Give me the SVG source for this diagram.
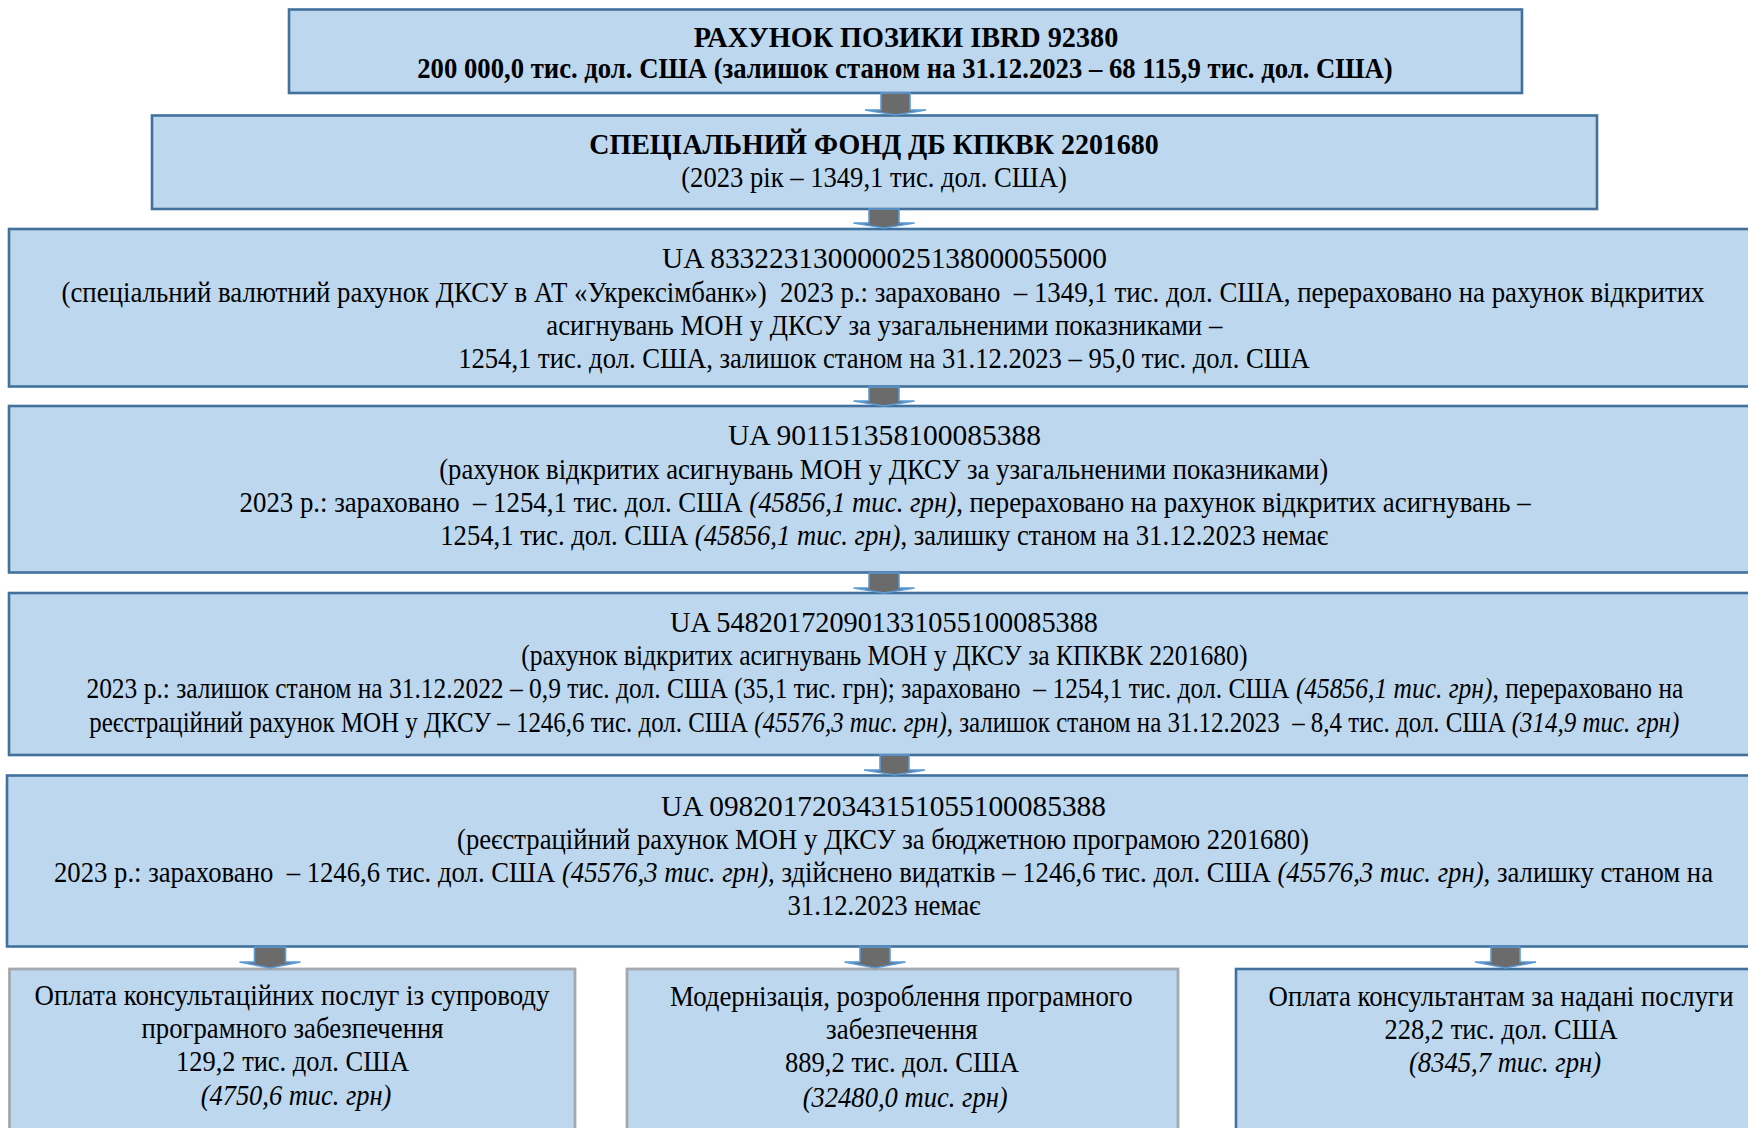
<svg xmlns="http://www.w3.org/2000/svg" width="1748" height="1128" viewBox="0 0 1748 1128">
<style>
.box{fill:#bdd7ee;stroke:#41719c;stroke-width:2.6}
.gbox{fill:#bdd7ee;stroke:#a3a9ae;stroke-width:2.8}
.t{font-family:"Liberation Serif","Times New Roman",serif;font-size:29.3px;fill:#000;text-anchor:middle;white-space:pre}
.b{font-weight:bold}
.i{font-style:italic}
.arr{fill:#6b6b6b;stroke:#5b9bd5;stroke-width:1.6;stroke-linejoin:miter}
</style>
<rect width="1748" height="1128" fill="#ffffff"/>
<g id="n1">
<rect class="box" x="289" y="9.5" width="1233" height="83.5"/>
<text class="t b" x="906" y="46.5" textLength="424.5" lengthAdjust="spacingAndGlyphs">РАХУНОК ПОЗИКИ IBRD 92380</text>
<text class="t b" x="905" y="78" textLength="975.5" lengthAdjust="spacingAndGlyphs">200 000,0 тис. дол. США (залишок станом на 31.12.2023 – 68 115,9 тис. дол. США)</text>
</g>
<g id="n2">
<rect class="box" x="152" y="115.5" width="1445" height="93.5"/>
<text class="t b" x="874" y="154" textLength="569.5" lengthAdjust="spacingAndGlyphs">СПЕЦІАЛЬНИЙ ФОНД ДБ КПКВК 2201680</text>
<text class="t" x="874" y="187" textLength="385.5" lengthAdjust="spacingAndGlyphs">(2023 рік – 1349,1 тис. дол. США)</text>
</g>
<g id="n3">
<rect class="box" x="9" y="229" width="1750" height="157.5"/>
<text class="t" x="884.5" y="268" textLength="445" lengthAdjust="spacingAndGlyphs">UA 833223130000025138000055000</text>
<text class="t" x="883" y="301.5" textLength="1643" lengthAdjust="spacingAndGlyphs">(спеціальний валютний рахунок ДКСУ в АТ «Укрексімбанк»)  2023 р.: зараховано  – 1349,1 тис. дол. США, перераховано на рахунок відкритих</text>
<text class="t" x="884.3" y="334.5" textLength="676" lengthAdjust="spacingAndGlyphs">асигнувань МОН у ДКСУ за узагальненими показниками –</text>
<text class="t" x="884" y="367.5" textLength="851.7" lengthAdjust="spacingAndGlyphs">1254,1 тис. дол. США, залишок станом на 31.12.2023 – 95,0 тис. дол. США</text>
</g>
<g id="n4">
<rect class="box" x="9" y="406" width="1750" height="166.5"/>
<text class="t" x="884.5" y="445" textLength="313" lengthAdjust="spacingAndGlyphs">UA 901151358100085388</text>
<text class="t" x="883.7" y="478.5" textLength="889" lengthAdjust="spacingAndGlyphs">(рахунок відкритих асигнувань МОН у ДКСУ за узагальненими показниками)</text>
<text class="t" x="885.1" y="512" textLength="1291" lengthAdjust="spacingAndGlyphs">2023 р.: зараховано  – 1254,1 тис. дол. США <tspan class="i">(45856,1 тис. грн)</tspan>, перераховано на рахунок відкритих асигнувань –</text>
<text class="t" x="884.3" y="545" textLength="888" lengthAdjust="spacingAndGlyphs">1254,1 тис. дол. США <tspan class="i">(45856,1 тис. грн)</tspan>, залишку станом на 31.12.2023 немає</text>
</g>
<g id="n5">
<rect class="box" x="9" y="593" width="1750" height="162"/>
<text class="t" x="884" y="631.5" textLength="428" lengthAdjust="spacingAndGlyphs">UA 548201720901331055100085388</text>
<text class="t" x="884.3" y="665" textLength="726.3" lengthAdjust="spacingAndGlyphs">(рахунок відкритих асигнувань МОН у ДКСУ за КПКВК 2201680)</text>
<text class="t" x="884.9" y="698" textLength="1597" lengthAdjust="spacingAndGlyphs">2023 р.: залишок станом на 31.12.2022 – 0,9 тис. дол. США (35,1 тис. грн); зараховано  – 1254,1 тис. дол. США <tspan class="i">(45856,1 тис. грн)</tspan>, перераховано на</text>
<text class="t" x="884.3" y="731.5" textLength="1590" lengthAdjust="spacingAndGlyphs">реєстраційний рахунок МОН у ДКСУ – 1246,6 тис. дол. США <tspan class="i">(45576,3 тис. грн)</tspan>, залишок станом на 31.12.2023  – 8,4 тис. дол. США <tspan class="i">(314,9 тис. грн)</tspan></text>
</g>
<g id="n6">
<rect class="box" x="7" y="775.5" width="1754" height="171"/>
<text class="t" x="883.5" y="815.5" textLength="445" lengthAdjust="spacingAndGlyphs">UA 098201720343151055100085388</text>
<text class="t" x="883" y="848.5" textLength="852" lengthAdjust="spacingAndGlyphs">(реєстраційний рахунок МОН у ДКСУ за бюджетною програмою 2201680)</text>
<text class="t" x="883.5" y="881.5" textLength="1659" lengthAdjust="spacingAndGlyphs">2023 р.: зараховано  – 1246,6 тис. дол. США <tspan class="i">(45576,3 тис. грн),</tspan> здійснено видатків – 1246,6 тис. дол. США <tspan class="i">(45576,3 тис. грн),</tspan> залишку станом на</text>
<text class="t" x="884" y="915" textLength="193" lengthAdjust="spacingAndGlyphs">31.12.2023 немає</text>
</g>
<g id="n7">
<rect class="gbox" x="9.5" y="969" width="565.5" height="175"/>
<text class="t" x="292" y="1004.5" textLength="515" lengthAdjust="spacingAndGlyphs">Оплата консультаційних послуг із супроводу</text>
<text class="t" x="292.5" y="1037.5" textLength="302" lengthAdjust="spacingAndGlyphs">програмного забезпечення</text>
<text class="t" x="292.5" y="1070.5" textLength="233" lengthAdjust="spacingAndGlyphs">129,2 тис. дол. США</text>
<text class="t i" x="296" y="1105" textLength="190.6" lengthAdjust="spacingAndGlyphs">(4750,6 тис. грн)</text>
</g>
<g id="n8">
<rect class="gbox" x="627" y="969" width="551" height="175"/>
<text class="t" x="901.3" y="1006" textLength="462.6" lengthAdjust="spacingAndGlyphs">Модернізація, розроблення програмного</text>
<text class="t" x="901.8" y="1039" textLength="151.6" lengthAdjust="spacingAndGlyphs">забезпечення</text>
<text class="t" x="902" y="1072" textLength="234" lengthAdjust="spacingAndGlyphs">889,2 тис. дол. США</text>
<text class="t i" x="905.2" y="1106.5" textLength="205" lengthAdjust="spacingAndGlyphs">(32480,0 тис. грн)</text>
</g>
<g id="n9">
<rect class="box" x="1236" y="969" width="530" height="175"/>
<text class="t" x="1501" y="1006" textLength="465" lengthAdjust="spacingAndGlyphs">Оплата консультантам за надані послуги</text>
<text class="t" x="1501" y="1039" textLength="233" lengthAdjust="spacingAndGlyphs">228,2 тис. дол. США</text>
<text class="t i" x="1505" y="1072" textLength="192" lengthAdjust="spacingAndGlyphs">(8345,7 тис. грн)</text>
</g>
<g id="connectors">
<path class="arr" d="M881,93 L881,110 L865,110 L895.5,115 L926,110 L910,110 L910,93 Z"/>
<path class="arr" d="M869,209 L869,223 L853.5,223 L884,228 L914.5,223 L899,223 L899,209 Z"/>
<path class="arr" d="M869,387 L869,401 L853.5,401 L884,406 L914.5,401 L899,401 L899,387 Z"/>
<path class="arr" d="M869,573 L869,588 L853.5,588 L884,593 L914.5,588 L899,588 L899,573 Z"/>
<path class="arr" d="M880,755 L880,770 L864,770 L894.5,775 L925,770 L909,770 L909,755 Z"/>
<path class="arr" d="M254.5,947 L254.5,962 L239.5,962 L270,968 L300.5,962 L285.5,962 L285.5,947 Z"/>
<path class="arr" d="M860,947 L860,962 L844.5,962 L875,968 L905.5,962 L890,962 L890,947 Z"/>
<path class="arr" d="M1491,947 L1491,962 L1475,962 L1505.5,968 L1536,962 L1520,962 L1520,947 Z"/>
</g>
</svg>
